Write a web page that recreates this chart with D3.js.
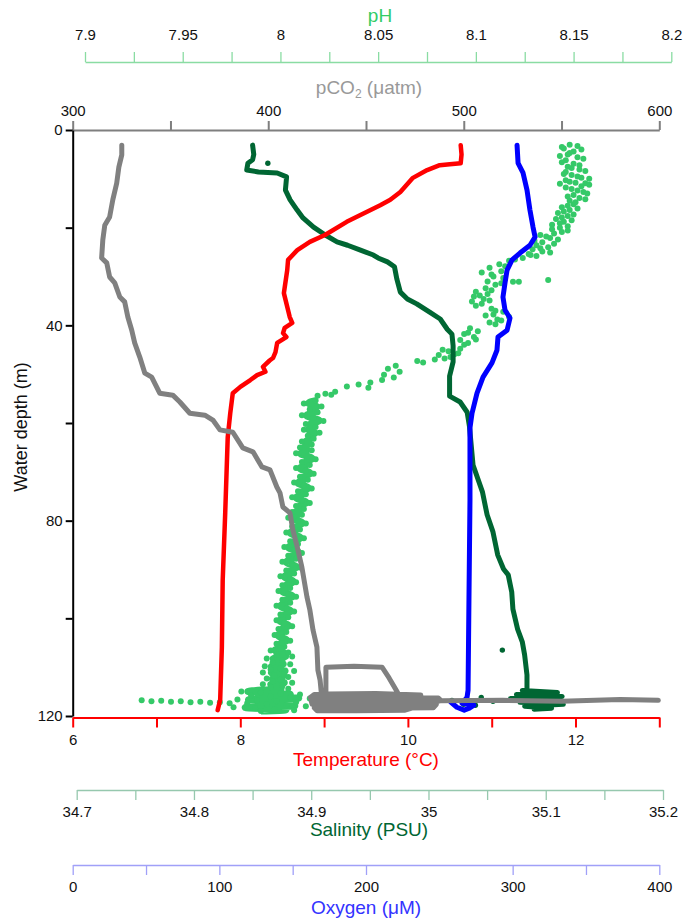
<!DOCTYPE html>
<html><head><meta charset="utf-8">
<script src="https://cdn.jsdelivr.net/npm/d3@7"></script>
<style>
body{margin:0;background:#fff}
svg{display:block;font-family:"Liberation Sans",Arial,sans-serif}
</style>
</head><body>
<svg id="c" width="684" height="922"></svg>
<script>
// ---------- tick values ----------
const depthTicks=[0,20,40,60,80,100,120];
const depthLabels=[0,40,80,120];
const pco2Ticks=[300,350,400,450,500,550,600];
const pco2Labels=[300,400,500,600];
const phTicks=[7.9,7.925,7.95,7.975,8,8.025,8.05,8.075,8.1,8.125,8.15,8.175,8.2];
const phLabels=[7.9,7.95,8,8.05,8.1,8.15,8.2];
const tempTicks=[6,7,8,9,10,11,12,13];
const tempLabels=[6,8,10,12];
const salTicks=[34.7,34.75,34.8,34.85,34.9,34.95,35,35.05,35.1,35.15,35.2];
const salLabels=[34.7,34.8,34.9,35,35.1,35.2];
const oxyTicks=[0,50,100,150,200,300,350,400];
const oxyLabels=[0,100,200,300,400];

// ---------- profiles: [depth (m), value] ----------
const temperature=[[3.1,10.63],[5.0,10.64],[6.8,10.63],[7.0,10.5],[7.2,10.38],[8.2,10.23],[9.8,10.06],[12.7,9.91],[14.3,9.79],[15.4,9.67],[18.8,9.27],[21.5,9.01],[22.9,8.83],[24.6,8.68],[26.6,8.57],[28.7,8.56],[33.4,8.52],[38.3,8.59],[39.5,8.62],[40.5,8.53],[41.6,8.51],[42.4,8.55],[43.6,8.44],[45.5,8.42],[46.7,8.39],[47.2,8.35],[48.5,8.27],[49.5,8.3],[50.2,8.2],[51.2,8.12],[52.6,8.0],[53.9,7.91],[55.3,7.9],[58.0,7.88],[62.9,7.85],[78.4,7.82],[92.2,7.79],[105.9,7.78],[116.7,7.76],[118.8,7.73]];

const oxygen=[[3.1,303.0],[6.8,303.7],[8.8,307.1],[12.3,309.8],[16.4,311.8],[19.9,313.9],[21.9,315.3],[23.6,311.8],[25.2,305.0],[26.6,299.6],[28.7,296.2],[31.3,294.8],[34.2,293.4],[36.9,294.8],[38.5,298.2],[41.0,296.2],[42.4,290.0],[45.1,289.3],[47.7,285.9],[50.6,279.8],[53.9,275.7],[58.0,272.3],[61.0,270.9],[75.8,270.9],[96.3,270.2],[114.7,269.6],[116.2,268.9],[117.4,265.5],[117.8,273.6],[118.4,270.5],[118.8,267.0],[118.2,262.0],[117.2,258.0]];

const salinity=[[3.1,34.85],[5.0,34.851],[6.1,34.85],[6.8,34.846],[8.2,34.845],[8.6,34.855],[8.8,34.871],[9.6,34.879],[12.3,34.878],[14.3,34.882],[16.4,34.888],[18.0,34.893],[19.9,34.902],[21.5,34.912],[22.9,34.922],[23.6,34.931],[24.6,34.942],[25.6,34.953],[26.2,34.957],[27.0,34.965],[28.0,34.971],[30.5,34.973],[33.2,34.976],[34.6,34.982],[35.6,34.99],[37.3,35.001],[38.7,35.01],[40.8,35.016],[41.8,35.02],[44.2,35.021],[47.5,35.021],[50.4,35.018],[54.5,35.018],[55.7,35.027],[57.8,35.033],[60.8,35.035],[68.6,35.038],[74.1,35.046],[78.8,35.05],[82.3,35.055],[87.0,35.059],[89.9,35.064],[91.1,35.068],[94.6,35.071],[98.1,35.072],[102.2,35.076],[104.8,35.08],[107.5,35.082],[111.6,35.084],[114.7,35.084],[114.8,35.08],[115.2,35.11],[115.6,35.075],[116.0,35.114],[116.4,35.07],[116.8,35.112],[117.2,35.078],[117.6,35.115],[118.0,35.082],[118.4,35.105],[118.6,35.09]];
const salinityScatter=[[6.8,34.863],[106.5,35.063],[116.4,34.995],[117.3,35.005],[116.8,35.02],[117.6,35.03],[116.2,35.045],[117.0,35.055],[117.8,35.04]];

const pco2=[[3.1,325.1],[5.1,325.1],[7.6,323.6],[10.9,322.5],[14.3,320.5],[17.8,318.9],[19.5,316.4],[22.5,315.4],[26.2,314.8],[27.2,317.4],[30.1,318.9],[31.3,321.5],[34.2,324.1],[35.2,326.6],[38.3,328.2],[41.0,330.2],[43.6,331.7],[46.5,334.3],[49.8,336.9],[50.6,340.4],[53.9,344.5],[54.3,351.2],[55.7,354.8],[58.0,359.9],[58.4,367.6],[59.4,371.7],[61.4,375.3],[61.9,381.9],[65.1,387.0],[65.9,392.2],[69.0,396.8],[69.6,400.9],[73.1,404.4],[74.3,406.0],[77.2,407.5],[78.4,411.1],[81.9,412.6],[86.0,415.2],[89.5,417.2],[95.6,419.8],[98.3,421.3],[102.4,422.9],[105.9,424.9],[110.6,425.4],[112.6,426.5],[116.7,427.5],[117.6,429.5],[110.0,429.5],[109.8,443.9],[110.0,458.2],[112.2,461.8],[114.7,465.4],[116.1,467.4],[115.7,478],[115.4,455],[115.5,430],[115.6,423.5],[116.2,421.5],[116.1,450],[116.3,487],[116.9,488.5],[116.9,460],[117.0,430],[116.9,422],[117.6,422.4],[117.7,455],[117.6,486],[118.3,484.5],[118.4,455],[118.3,423.5],[118.9,425],[118.9,445],[118.8,470],[117.6,480],[116.9,487.9],[116.8,520],[117.0,550],[116.6,580],[116.8,599.5]];

const phUpper=[[3.0,8.148],[3.3,8.152],[3.5,8.144],[3.8,8.145],[4.0,8.154],[4.4,8.15],[4.7,8.148],[5.0,8.147],[5.3,8.143],[5.6,8.152],[5.9,8.155],[6.2,8.146],[6.6,8.144],[6.9,8.15],[7.2,8.153],[7.5,8.147],[7.8,8.149],[8.1,8.153],[8.4,8.156],[8.6,8.146],[9.0,8.145],[9.2,8.149],[9.5,8.152],[9.8,8.154],[10.0,8.158],[10.3,8.146],[10.6,8.148],[10.8,8.151],[10.9,8.156],[11.0,8.143],[11.2,8.158],[11.5,8.154],[11.8,8.146],[12.1,8.149],[12.4,8.152],[12.7,8.155],[13.0,8.157],[13.3,8.15],[13.6,8.147],[13.9,8.153],[14.2,8.156],[14.5,8.148],[14.8,8.151],[15.2,8.15],[15.5,8.147],[15.8,8.144],[16.1,8.152],[16.4,8.148],[16.7,8.145],[17.0,8.142],[17.3,8.15],[17.6,8.147],[17.9,8.144],[18.2,8.141],[18.5,8.149],[18.8,8.145],[19.1,8.143],[19.4,8.139],[19.7,8.147],[20.0,8.143],[20.3,8.139],[20.6,8.147],[20.9,8.144],[21.2,8.14],[21.5,8.133],[21.8,8.136],[22.1,8.138],[22.4,8.142],[22.7,8.13],[23.0,8.134],[23.3,8.14],[23.6,8.131],[24.0,8.137],[24.2,8.133],[24.4,8.129],[24.9,8.134],[25.1,8.138],[25.4,8.127],[25.6,8.128],[25.8,8.131],[26.2,8.124],[26.5,8.12],[26.8,8.117],[30.7,8.137],[31.1,8.119],[31.1,8.122],[27.5,8.112],[27.9,8.115],[28.2,8.107],[28.9,8.113],[29.2,8.103],[29.6,8.108],[30.0,8.109],[30.3,8.114],[31.0,8.106],[31.4,8.113],[31.7,8.11],[32.4,8.105],[32.8,8.108],[33.1,8.1],[33.6,8.106],[33.9,8.102],[34.1,8.099],[34.6,8.104],[34.9,8.107],[35.1,8.098],[35.6,8.103],[36.0,8.1],[36.6,8.108],[37.0,8.11],[37.2,8.114],[37.8,8.109],[38.0,8.105],[38.3,8.117],[38.8,8.111],[39.0,8.113],[39.4,8.107],[39.8,8.11],[40.6,8.097],[41.2,8.101],[41.5,8.096],[41.8,8.094],[42.4,8.099],[42.9,8.1],[43.0,8.092],[43.6,8.096],[44.0,8.094],[44.8,8.092],[45.0,8.083],[45.3,8.086],[45.7,8.091],[45.9,8.089],[46.1,8.081],[46.5,8.087],[46.8,8.084],[47.0,8.079],[47.3,8.07],[47.6,8.073],[48.3,8.059],[48.9,8.055],[49.5,8.061],[50.1,8.053],[50.7,8.058],[51.2,8.052],[51.7,8.046],[52.1,8.04],[52.5,8.034],[52.8,8.045],[53.6,8.028],[54.0,8.023],[54.4,8.019],[54.2,8.026]];
const phLower=[[55.4,8.018],[56.0,8.012],[56.6,8.021],[57.2,8.015],[57.8,8.019],[58.4,8.011],[59.0,8.017],[59.6,8.022],[60.2,8.013],[60.8,8.018],[61.4,8.012],[62.0,8.02],[62.6,8.014],[63.2,8.017],[63.8,8.011],[64.4,8.016],[65.0,8.01],[65.6,8.016],[66.2,8.008],[66.8,8.014],[67.4,8.018],[68.0,8.011],[68.6,8.015],[69.2,8.008],[69.8,8.013],[70.4,8.017],[71.0,8.01],[71.6,8.014],[72.2,8.007],[72.8,8.012],[73.4,8.016],[74.0,8.009],[74.6,8.013],[75.2,8.006],[75.8,8.011],[76.4,8.015],[77.0,8.008],[77.6,8.012],[78.2,8.006],[78.8,8.011],[79.4,8.004],[80.0,8.009],[80.6,8.013],[81.2,8.006],[81.8,8.01],[82.4,8.003],[83.0,8.008],[83.6,8.012],[84.2,8.005],[84.8,8.009],[85.4,8.002],[86.0,8.007],[86.6,8.011],[87.2,8.004],[87.8,8.008],[88.4,8.001],[89.0,8.006],[89.6,8.01],[90.2,8.003],[90.8,8.007],[91.4,8.0],[92.0,8.005],[92.6,8.008],[93.2,8.001],[93.8,8.005],[94.4,7.999],[95.0,8.004],[95.6,8.008],[96.2,8.001],[96.8,8.005],[97.4,7.998],[98.0,8.003],[98.6,8.007],[99.2,8.0],[99.8,8.004],[100.4,7.998],[101.0,8.002],[101.6,8.006],[102.2,7.999],[102.8,8.003],[103.4,7.997],[104.0,8.001],[104.6,8.005],[105.2,7.998],[105.8,8.002],[106.2,8.0],[106.6,7.995],[107.0,8.004],[107.4,7.998],[107.8,8.006],[108.2,7.993],[108.6,8.001],[109.0,7.996],[109.4,8.005],[109.8,7.992],[110.2,8.0],[110.5,7.995],[110.8,8.007],[111.1,7.991],[111.4,8.002],[111.7,7.997],[112.0,8.004],[112.3,7.993],[112.6,8.0],[112.9,7.996],[113.2,8.006],[113.5,7.991],[113.8,8.001],[114.1,7.995],[114.4,8.004],[114.7,7.99],[115.0,7.98],[115.2,7.99],[115.4,8.0],[115.6,8.01],[115.8,7.985],[116.0,7.995],[116.2,8.005],[116.4,8.015],[116.6,7.978],[116.8,7.988],[117.0,7.998],[117.2,8.008],[117.4,7.983],[117.6,7.993],[117.8,8.003],[118.0,8.013],[118.2,7.976],[118.4,7.987],[118.6,7.997],[118.8,8.007],[119.0,7.99]];
const phTail=[[116.8,7.929],[117.0,7.934],[116.9,7.939],[117.1,7.944],[117.0,7.949],[117.2,7.954],[117.1,7.959],[117.3,7.964],[117.2,7.969],[117.4,7.974]];

// ---------- scales ----------
const svg=d3.select("#c");
const L=72.7,R=659.3;
const yD=d3.scaleLinear().domain([0,120]).range([130,716]);
const xT=d3.scaleLinear().domain([6,13]).range([L,R]);
const xC=d3.scaleLinear().domain([300,600]).range([L,R]);
const xP=d3.scaleLinear().domain([7.9,8.2]).range([85,671.3]);
const xS=d3.scaleLinear().domain([34.7,35.2]).range([76.7,663]);
const xO=d3.scaleLinear().domain([0,400]).range([L,R]);

const sub=labels=>d=>labels.some(l=>Math.abs(l-d)<1e-9)?String(+d.toFixed(3)):"";
function styleAxis(g,color,w,labelColor){
  g.selectAll(".domain").attr("stroke",color).attr("stroke-width",w);
  g.selectAll(".tick line").attr("stroke",color).attr("stroke-width",w);
  g.selectAll(".tick text").attr("fill",labelColor||"#111").style("font-size","15px").style("font-family","'Liberation Sans',Arial,sans-serif");
}

// ---------- data marks ----------
const plot=svg.append("g");
const line=(xs)=>d3.line().x(d=>xs(d[1])).y(d=>yD(d[0]));

// pH (light green)
plot.append("path").datum(phLower).attr("d",line(xP).curve(d3.curveBasis)).attr("fill","none").attr("stroke","#35c968").attr("stroke-width",7).attr("stroke-linejoin","round");
plot.selectAll(".ph").data(phUpper.concat(phLower,phTail)).join("circle").attr("cx",d=>xP(d[1])).attr("cy",d=>yD(d[0])).attr("r",3).attr("fill","#35c968");

// salinity (dark green)
plot.append("path").datum(salinity).attr("d",line(xS)).attr("fill","none").attr("stroke","#006633").attr("stroke-width",5).attr("stroke-linejoin","round").attr("stroke-linecap","round");
plot.selectAll(".sal").data(salinityScatter).join("circle").attr("cx",d=>xS(d[1])).attr("cy",d=>yD(d[0])).attr("r",2.7).attr("fill","#006633");

// oxygen (blue)
plot.append("path").datum(oxygen).attr("d",line(xO)).attr("fill","none").attr("stroke","#0000ff").attr("stroke-width",5).attr("stroke-linejoin","round").attr("stroke-linecap","round");

// temperature (red)
plot.append("path").datum(temperature).attr("d",line(xT)).attr("fill","none").attr("stroke","#ff0000").attr("stroke-width",4.5).attr("stroke-linejoin","round").attr("stroke-linecap","round");

// pCO2 (gray)
plot.append("path").datum(pco2).attr("d",line(xC)).attr("fill","none").attr("stroke","#808080").attr("stroke-width",5).attr("stroke-linejoin","round").attr("stroke-linecap","round");

// ---------- axes ----------
const gP=svg.append("g").attr("transform","translate(0,62)")
  .call(d3.axisTop(xP).tickValues(phTicks).tickSize(10).tickSizeOuter(0).tickPadding(12).tickFormat(sub(phLabels)));
styleAxis(gP,"#8adca3",1.3);
const gC=svg.append("g").attr("transform","translate(0,130)")
  .call(d3.axisTop(xC).tickValues(pco2Ticks).tickSize(9).tickSizeOuter(0).tickPadding(5).tickFormat(sub(pco2Labels)));
styleAxis(gC,"#7f7f7f",2);
const gY=svg.append("g").attr("transform",`translate(${L},0)`)
  .call(d3.axisLeft(yD).tickValues(depthTicks).tickSize(7).tickSizeOuter(0).tickPadding(3).tickFormat(sub(depthLabels)));
styleAxis(gY,"#000",2);
const gT=svg.append("g").attr("transform","translate(0,717.5)")
  .call(d3.axisBottom(xT).tickValues(tempTicks).tickSize(10).tickSizeOuter(0).tickPadding(7).tickFormat(sub(tempLabels)));
styleAxis(gT,"#ff0000",2);
const gS=svg.append("g").attr("transform","translate(0,790)")
  .call(d3.axisBottom(xS).tickValues(salTicks).tickSize(10).tickSizeOuter(0).tickPadding(6).tickFormat(sub(salLabels)));
styleAxis(gS,"#96c8ae",1.3);
const gO=svg.append("g").attr("transform","translate(0,865)")
  .call(d3.axisBottom(xO).tickValues(oxyTicks).tickSize(10).tickSizeOuter(0).tickPadding(6).tickFormat(sub(oxyLabels)));
styleAxis(gO,"#a0a0f8",1.3);

// ---------- titles ----------
const FS="19px";
const title=(x,y,txt,color)=>svg.append("text").attr("x",x).attr("y",y).attr("text-anchor","middle").attr("fill",color).style("font-size",FS).text(txt);
title(380,22,"pH","#33cc66");
const tc=svg.append("text").attr("x",369).attr("y",94).attr("text-anchor","middle").attr("fill","#999999").style("font-size",FS);
tc.append("tspan").text("pCO");
tc.append("tspan").attr("dy",4).style("font-size","12px").text("2");
tc.append("tspan").attr("dy",-4).text(" (\u03bcatm)");
title(366,766,"Temperature (\u00b0C)","#ff0000");
title(369,836,"Salinity (PSU)","#006633");
title(366,914,"Oxygen (\u03bcM)","#3333ff");
svg.append("text").attr("transform","translate(27,427) rotate(-90)").attr("text-anchor","middle").attr("fill","#111").style("font-size","18px").text("Water depth (m)");
</script>
</body></html>
